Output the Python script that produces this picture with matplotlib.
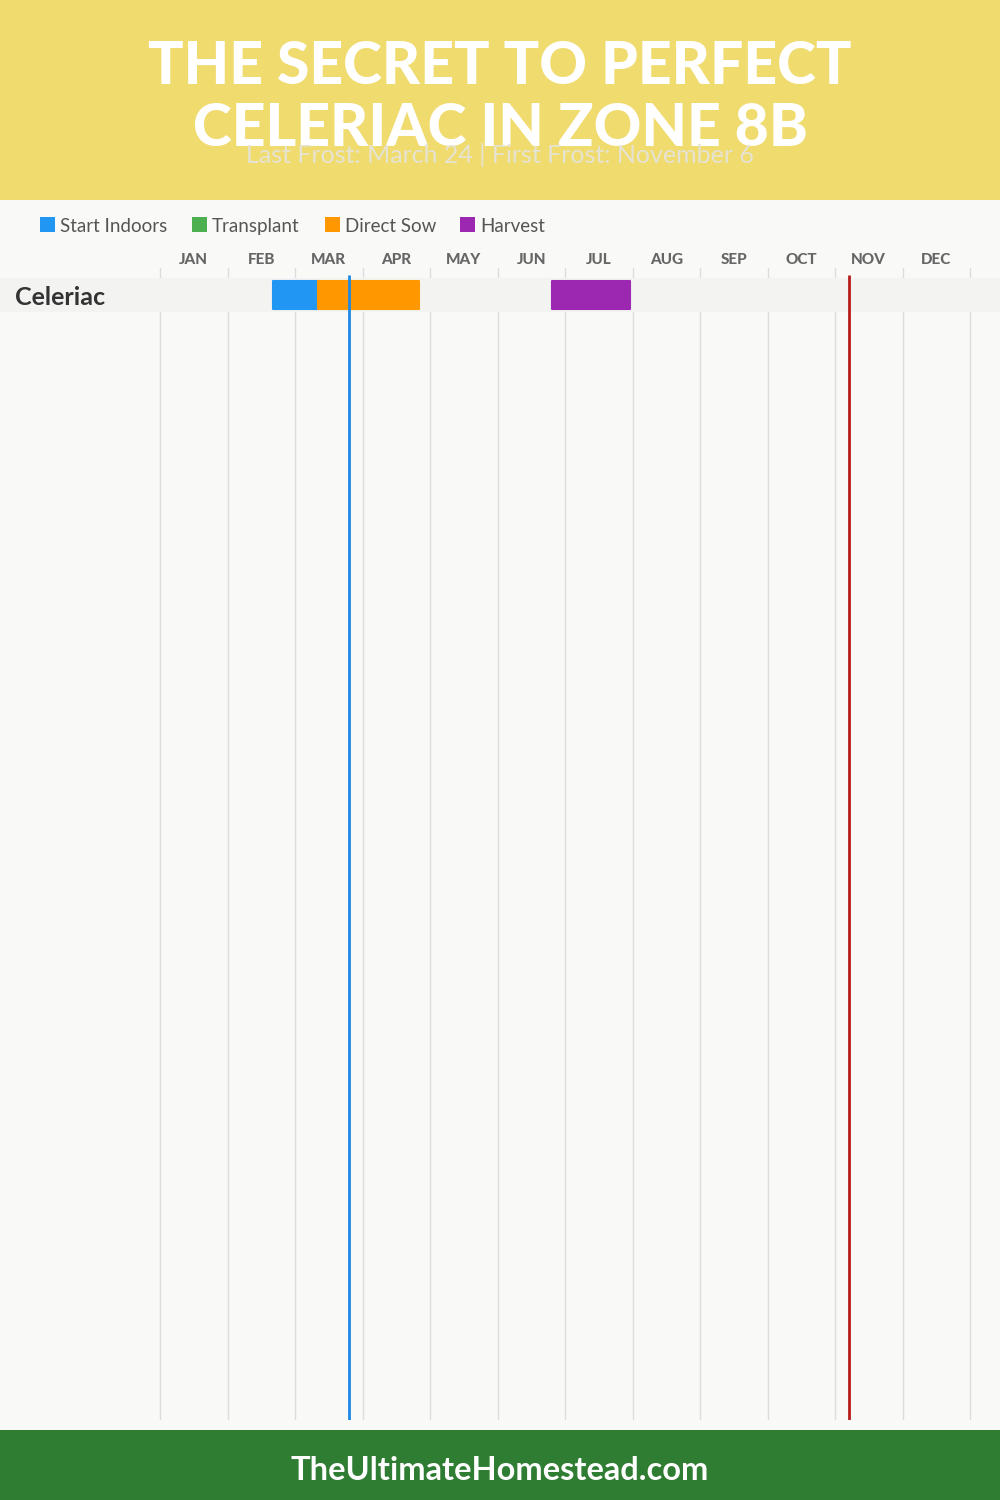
import matplotlib
matplotlib.use("Agg")
import matplotlib.pyplot as plt
from matplotlib.patches import Rectangle
from matplotlib.transforms import blended_transform_factory

# data
months = ["JAN", "FEB", "MAR", "APR", "MAY", "JUN", "JUL", "AUG", "SEP", "OCT", "NOV", "DEC"]
crops = ["Celeriac"]
# (month index, day) -> position = month + day/30
indoors_start = [(1, 20)]
indoors_end = [(2, 10)]
sow_start = [(2, 10)]
sow_end = [(3, 25)]
harvest_start = [(5, 24)]
harvest_end = [(6, 29)]
last_frost = (2, 24)
first_frost = (10, 6)

legend_names = ["Start Indoors", "Transplant", "Direct Sow", "Harvest"]
legend_colors = ["#2196F3", "#4CAF50", "#FF9800", "#9C27B0"]

FONT = ["Lato", "DejaVu Sans"]


def pos(md):
    return md[0] + md[1] / 30.0


W, H = 1000, 1500
fig = plt.figure(figsize=(10, 15), dpi=100)
fig.patch.set_facecolor("#F9F9F8")

# header / footer bands
fig.patches.append(Rectangle((0, 1 - 200 / H), 1, 200 / H, transform=fig.transFigure,
                             facecolor="#F0DB6E", edgecolor="none", zorder=0))
fig.patches.append(Rectangle((0, 0), 1, 70 / H, transform=fig.transFigure,
                             facecolor="#2E7D32", edgecolor="none", zorder=0))

t1 = fig.text(0.5, 1 - 67 / H, "THE SECRET TO PERFECT", ha="center", va="center",
              color="white", fontsize=40, fontweight="black", family=FONT)
t2 = fig.text(0.5, 1 - 129 / H, "CELERIAC IN ZONE 8B", ha="center", va="center",
              color="white", fontsize=40, fontweight="black", family=FONT)
# fit first title line to the reference width (~703 px)
r = fig.canvas.get_renderer()
w = t1.get_window_extent(r).width
size = 40 * 703 / w
t1.set_fontsize(size)
t2.set_fontsize(size)

fig.text(0.5, 1 - 155 / H, "Last Frost: March 24 | First Frost: November 6", ha="center",
         va="center", color="#E6E3D2", fontsize=18, family=FONT)
fig.text(0.5, 1 - 1471 / H, "TheUltimateHomestead.com", ha="center", va="center",
         color="white", fontsize=23.5, fontweight="bold", family=FONT)

# legend
leg_x = [40, 192, 325, 460]
for x, name, c in zip(leg_x, legend_names, legend_colors):
    fig.patches.append(Rectangle((x / W, 1 - 232 / H), 15 / W, 15 / H, transform=fig.transFigure,
                                 facecolor=c, edgecolor="none"))
    fig.text((x + 20) / W, 1 - 226.5 / H, name, ha="left", va="center", color="#555555",
             fontsize=13.5, family=FONT)

# chart axes
top_px, bot_px = 268, 1420
ax = fig.add_axes([0, 1 - bot_px / H, 1, (bot_px - top_px) / H])
ax.set_facecolor("none")
px_month = 810 / 12
ax.set_xlim(-160 / px_month, 12 + 30 / px_month)
row = 34.0
ax.set_ylim(-0.5 + (bot_px - 278) / row, -0.5 - (278 - top_px) / row)
for s in ax.spines.values():
    s.set_visible(False)

# gridlines
for m in range(13):
    ax.axvline(m, color="#DDDDDD", lw=1, zorder=1)

# month labels on top
ax.xaxis.tick_top()
ax.set_xticks([m + 0.5 for m in range(12)])
ax.set_xticklabels(months, fontsize=11, fontweight="black", color="#666666", family=FONT)
ax.tick_params(axis="x", length=0, pad=1)
ax.set_yticks([])

trans = blended_transform_factory(fig.transFigure, ax.transData)
for i, crop in enumerate(crops):
    ax.add_patch(Rectangle((0, i - 0.5), 1, 1, transform=trans, facecolor="#F3F3F2",
                           edgecolor="none", zorder=2))
    ax.text(15 / W, i + 0.07, crop, transform=trans, ha="left", va="center", fontsize=18,
            fontweight="bold", color="#333333", family=FONT, zorder=5)
    segs = [(indoors_start[i], indoors_end[i], legend_colors[0]),
            (sow_start[i], sow_end[i], legend_colors[2]),
            (harvest_start[i], harvest_end[i], legend_colors[3])]
    for a, b, c in segs:
        ax.barh(i, pos(b) - pos(a), left=pos(a), height=28 / row, color=c, edgecolor=c,
                linewidth=1.5, joinstyle="round", zorder=3)

y0 = -0.5 - 3 / row
ax.vlines(pos(last_frost), y0, ax.get_ylim()[0], color="#1E88E5", lw=2, zorder=4)
ax.vlines(pos(first_frost), y0, ax.get_ylim()[0], color="#B71C1C", lw=2, zorder=4)

fig.savefig("out.png", dpi=100, facecolor=fig.get_facecolor())
